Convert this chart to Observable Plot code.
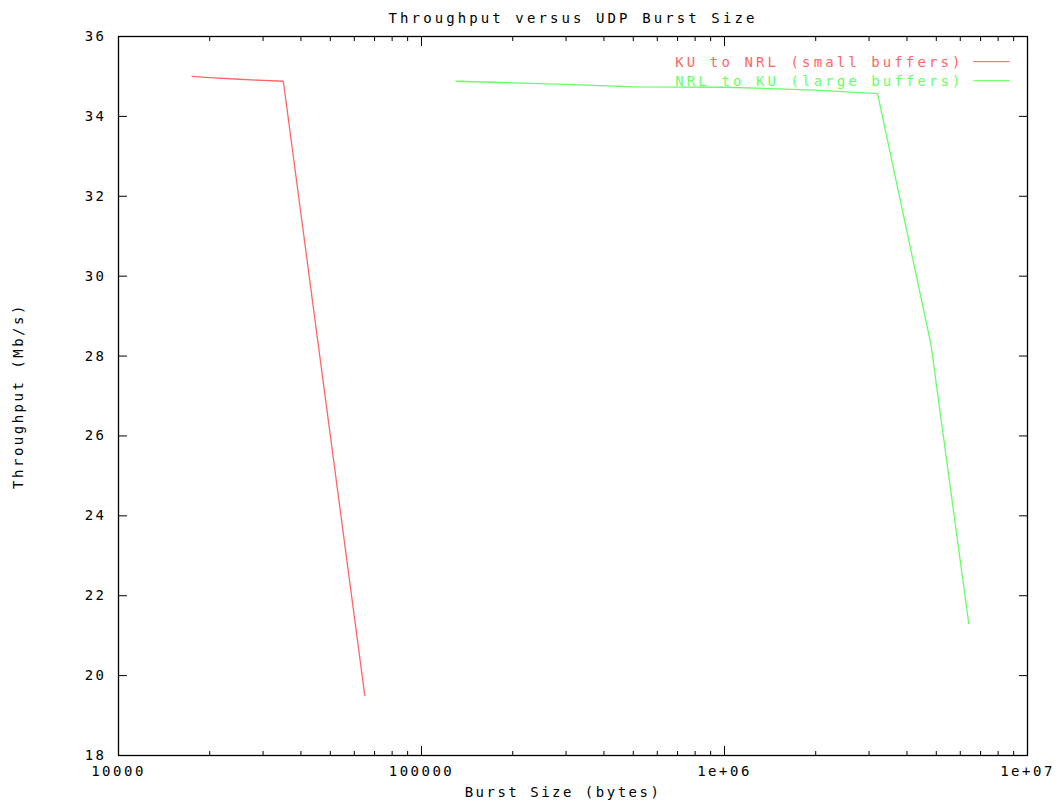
<!DOCTYPE html>
<html><head><meta charset="utf-8">
<script src="https://cdn.jsdelivr.net/npm/d3@7"></script>
<script src="https://cdn.jsdelivr.net/npm/@observablehq/plot@0.6"></script>
<style>
body{margin:0;background:#fff}
#chart svg{font-family:"DejaVu Sans Mono",monospace;}
#chart [aria-label="legend-sample"], #chart [aria-label="legend-sample"] text{letter-spacing:0 !important}
#chart [aria-label="wide-text"], #chart [aria-label="wide-text"] text{letter-spacing:3.1px !important}
</style></head><body><div id="chart"></div>
<script>
const title = "Throughput versus UDP Burst Size";
const xLabel = "Burst Size (bytes)";
const yLabel = "Throughput (Mb/s)";
const seriesNames = ["KU to NRL (small buffers)", "NRL to KU (large buffers)"];
const seriesColors = ["#ff6666", "#66ff66"];

const redX = [17500, 20000, 25000, 30000, 35000, 65000];
const redY = [35.0, 34.97, 34.93, 34.9, 34.88, 19.5];

const greenX = [130000, 200000, 300000, 500000, 1000000, 2000000, 3200000, 4800000, 6400000];
const greenY = [34.88, 34.84, 34.80, 34.74, 34.73, 34.66, 34.57, 28.3, 21.3];

const xMajor = [1e4, 1e5, 1e6, 1e7];
const xMajorLabels = ["10000", "100000", "1e+06", "1e+07"];
const xMinor = [20000, 30000, 40000, 50000, 60000, 70000, 80000, 90000,
  200000, 300000, 400000, 500000, 600000, 700000, 800000, 900000,
  2000000, 3000000, 4000000, 5000000, 6000000, 7000000, 8000000, 9000000];
const yTicks = [18, 20, 22, 24, 26, 28, 30, 32, 34, 36];

const data = [
  ...redX.map((x, i) => ({x, y: redY[i], s: seriesNames[0]})),
  ...greenX.map((x, i) => ({x, y: greenY[i], s: seriesNames[1]}))
];

const blank = () => "";
const legendMarks = seriesNames.flatMap((name, i) => [
  Plot.text([name], {text: d => d, fill: seriesColors[i], frameAnchor: "top-right", textAnchor: "end", lineAnchor: "middle", dx: -64, dy: 26 + 19 * i, ariaLabel: () => "wide-text"}),
  Plot.text(["\u2500\u2500\u2500\u2500\u2500"], {text: d => d, fill: seriesColors[i], fontSize: 12, frameAnchor: "top-right", textAnchor: "start", lineAnchor: "middle", dx: -54, dy: 26 + 19 * i, ariaLabel: () => "legend-sample"})
]);

const chart = Plot.plot({
  width: 1064, height: 808,
  marginLeft: 118, marginRight: 37, marginTop: 36, marginBottom: 53,
  style: {fontFamily: "DejaVu Sans Mono, monospace", fontSize: "14px", letterSpacing: "2.5px", background: "#fff", color: "#000"},
  x: {type: "log", domain: [1e4, 1e7]},
  y: {domain: [18, 36]},
  color: {domain: seriesNames, range: seriesColors},
  marks: [
    Plot.axisX({anchor: "bottom", ticks: xMajor, tickSize: -9, tickFormat: blank, label: null}),
    Plot.axisX({anchor: "bottom", ticks: xMinor, tickSize: -4, tickFormat: blank, label: null}),
    Plot.axisX({anchor: "top", ticks: xMajor, tickSize: -9, tickFormat: blank, label: null}),
    Plot.axisX({anchor: "top", ticks: xMinor, tickSize: -4, tickFormat: blank, label: null}),
    Plot.axisX({anchor: "bottom", ticks: xMajor, tickSize: 0, tickPadding: 11, tickFormat: d => xMajorLabels[xMajor.indexOf(d)], label: null}),
    Plot.axisY({anchor: "left", ticks: yTicks, tickSize: -9, tickFormat: blank, label: null}),
    Plot.axisY({anchor: "right", ticks: yTicks, tickSize: -9, tickFormat: blank, label: null}),
    Plot.axisY({anchor: "left", ticks: yTicks, tickSize: 0, tickPadding: 12, label: null}),
    Plot.frame({stroke: "#000", strokeWidth: 1.3}),
    Plot.line(data, {x: "x", y: "y", z: "s", stroke: "s", strokeWidth: 1.3}),
    Plot.text([title], {text: d => d, frameAnchor: "top", dy: -18, lineAnchor: "middle", ariaLabel: () => "wide-text"}),
    Plot.text([xLabel], {text: d => d, frameAnchor: "bottom", dx: -10, dy: 37, lineAnchor: "middle"}),
    Plot.text([yLabel], {text: d => d, frameAnchor: "left", textAnchor: "middle", dx: -100, rotate: -90, lineAnchor: "middle"}),
    ...legendMarks
  ]
});
document.getElementById("chart").appendChild(chart);
</script></body></html>
